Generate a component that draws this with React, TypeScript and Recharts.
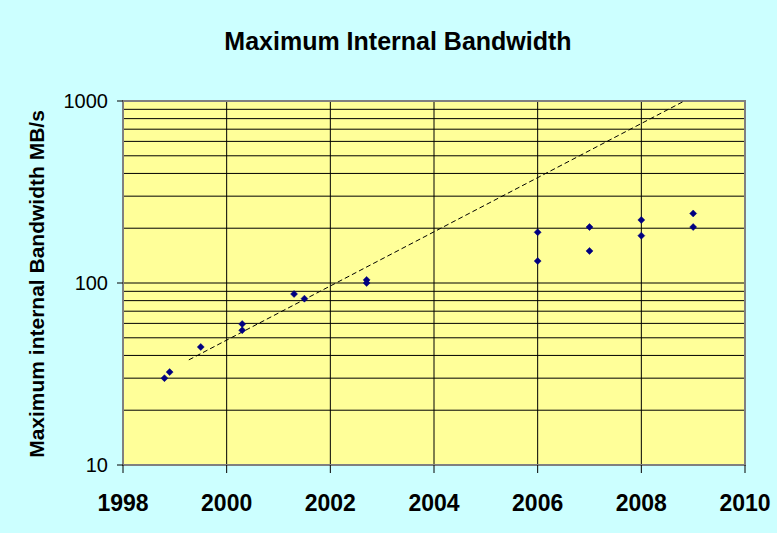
import React from 'react'
import {
  ScatterChart,
  Scatter,
  XAxis,
  YAxis,
  CartesianGrid,
  ReferenceArea,
} from 'recharts'

// measured points (year, MB/s)
const years = [
  1998.8, 1998.9, 1999.5, 2000.3, 2000.3, 2001.3, 2001.5, 2002.7, 2002.7,
  2006, 2006, 2007, 2007, 2008, 2008, 2009, 2009,
]
const bandwidth = [
  30, 32.4, 44.5, 59.5, 55, 87, 82, 104, 100, 190, 132, 203, 150, 222, 182,
  241, 203,
]

// exponential trendline end points
const trendYears = [1999.27, 2008.83]
const trendValues = [37.8, 1000]

const xTicks = [1998, 2000, 2002, 2004, 2006, 2008, 2010]
const yTicks = [
  10, 20, 30, 40, 50, 60, 70, 80, 90, 100, 200, 300, 400, 500, 600, 700, 800,
  900, 1000,
]
const yMajor = [10, 100, 1000]

const points = years.map((x, i) => ({ x, y: bandwidth[i] }))
const trend = trendYears.map((x, i) => ({ x, y: trendValues[i] }))

const FONT = "Arial, 'Liberation Sans', sans-serif"
const PLOT_LEFT = 123
const PLOT_BOTTOM = 465

const Diamond = (props: any) => {
  const { cx, cy } = props
  if (cx == null || cy == null) return <g />
  const r = 3.5
  return (
    <polygon
      points={`${cx},${cy - r} ${cx + r},${cy} ${cx},${cy + r} ${cx - r},${cy}`}
      fill='#000080'
      stroke='#000080'
      strokeWidth={0.5}
    />
  )
}

const YTick = (props: any) => {
  const { y, payload } = props
  if (!yMajor.includes(payload.value)) return <g />
  return (
    <g>
      <line x1={PLOT_LEFT - 6} x2={PLOT_LEFT} y1={y} y2={y} stroke='#000' />
      <text
        x={PLOT_LEFT - 15}
        y={y}
        dy={7}
        textAnchor='end'
        fontFamily={FONT}
        fontSize={20}
        fill='#000'
      >
        {payload.value}
      </text>
    </g>
  )
}

const XTick = (props: any) => {
  const { x, payload } = props
  return (
    <g>
      <line x1={x} x2={x} y1={PLOT_BOTTOM} y2={PLOT_BOTTOM + 8} stroke='#000' />
      <text
        x={x}
        y={PLOT_BOTTOM + 46}
        textAnchor='middle'
        fontFamily={FONT}
        fontSize={23}
        fontWeight='bold'
        fill='#000'
      >
        {payload.value}
      </text>
    </g>
  )
}

export default function App() {
  return (
    <div
      style={{
        position: 'absolute',
        left: 0,
        top: 0,
        width: 777,
        height: 533,
        background: '#CCFFFF',
        fontFamily: FONT,
      }}
    >
      <div
        style={{
          position: 'absolute',
          left: 398,
          top: 41,
          transform: 'translate(-50%, -50%)',
          fontSize: 25,
          fontWeight: 'bold',
          whiteSpace: 'nowrap',
        }}
      >
        Maximum Internal Bandwidth
      </div>
      <div
        style={{
          position: 'absolute',
          left: 37,
          top: 284,
          transform: 'translate(-50%, -50%) rotate(-90deg)',
          fontSize: 21,
          fontWeight: 'bold',
          whiteSpace: 'nowrap',
        }}
      >
        Maximum internal Bandwidth MB/s
      </div>
      <ScatterChart
        width={777}
        height={533}
        margin={{ top: 101, right: 32, bottom: 0, left: 0 }}
      >
        <CartesianGrid stroke='#000' fill='#FFFF99' fillOpacity={1} />
        <XAxis
          type='number'
          dataKey='x'
          domain={[1998, 2010]}
          ticks={xTicks}
          height={68}
          axisLine={false}
          tickLine={false}
          tick={<XTick />}
          allowDataOverflow
        />
        <YAxis
          type='number'
          dataKey='y'
          scale='log'
          domain={[10, 1000]}
          ticks={yTicks}
          width={123}
          axisLine={false}
          tickLine={false}
          tick={<YTick />}
          interval={0}
          allowDataOverflow
        />
        <ReferenceArea
          x1={1998}
          x2={2010}
          y1={10}
          y2={1000}
          fill='none'
          stroke='#808080'
          strokeWidth={2}
        />
        <Scatter
          data={trend}
          line={{ stroke: '#000', strokeWidth: 1, strokeDasharray: '5 3' }}
          shape={() => <g />}
          isAnimationActive={false}
        />
        <Scatter data={points} shape={<Diamond />} isAnimationActive={false} />
      </ScatterChart>
    </div>
  )
}
